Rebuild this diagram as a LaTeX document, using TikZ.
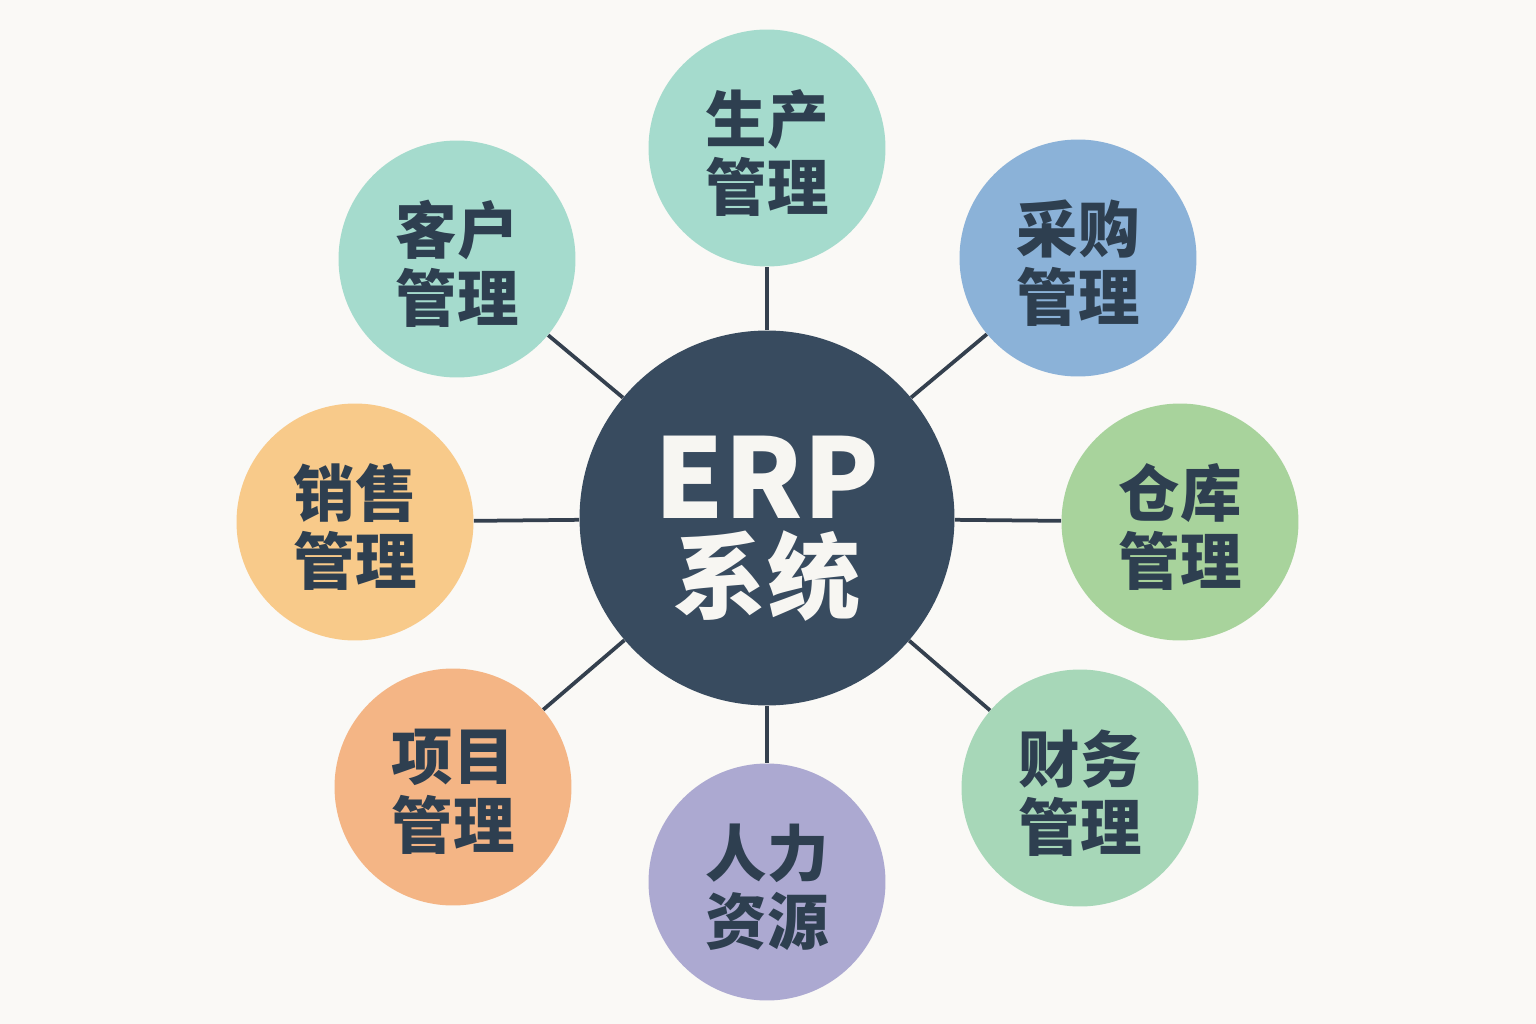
\documentclass[tikz,border=0pt]{standalone}
\usepackage{fontspec}
\setmainfont{Noto Sans CJK SC}
\usepackage{xcolor}
\usepackage{tikz}
\usetikzlibrary{positioning}

\definecolor{pageBg}{HTML}{FAF9F6}
\definecolor{hubFill}{HTML}{384B5F}
\definecolor{linkColor}{HTML}{34404E}
\definecolor{labelDark}{HTML}{2E3F50}
\definecolor{hubTextColor}{HTML}{F7F6F2}
\definecolor{mintFill}{HTML}{A5DBCD}
\definecolor{blueFill}{HTML}{8BB2D8}
\definecolor{greenFill}{HTML}{A8D39C}
\definecolor{sageFill}{HTML}{A7D7B8}
\definecolor{lavenderFill}{HTML}{ACA9D1}
\definecolor{peachFill}{HTML}{F4B585}
\definecolor{sandFill}{HTML}{F8CA8A}

\begin{document}
\begin{tikzpicture}[
  x=0.02cm, y=-0.02cm,
  hubNode/.style={circle, fill=hubFill, inner sep=0pt, minimum size=7.5cm},
  hubText/.style={text=hubTextColor, align=center, yshift=-0.22cm, font=\bfseries\fontsize{53}{53}\selectfont},
  moduleNode/.style={circle, inner sep=0pt, minimum size=4.74cm},
  moduleText/.style={text=labelDark, align=center, yshift=-0.1cm, font=\bfseries\fontsize{35}{39}\selectfont},
  linkLine/.style={draw=linkColor, line width=0.075cm}
]
\fill[pageBg] (0,0) rectangle (1536,1024);
\useasboundingbox (0,0) rectangle (1536,1024);

\node[hubNode, label={[hubText]center:{\fontsize{63}{53}\selectfont ERP}\\系统}] (erp) at (767,518) {};

\node[moduleNode, fill=mintFill, label={[moduleText]center:生产\\管理}] (prod) at (767,148) {};
\node[moduleNode, fill=blueFill, label={[moduleText]center:采购\\管理}] (purch) at (1078,258) {};
\node[moduleNode, fill=greenFill, label={[moduleText]center:仓库\\管理}] (store) at (1180,522) {};
\node[moduleNode, fill=sageFill, label={[moduleText]center:财务\\管理}] (fin) at (1080,788) {};
\node[moduleNode, fill=lavenderFill, label={[moduleText]center:人力\\资源}] (hr) at (767,882) {};
\node[moduleNode, fill=peachFill, label={[moduleText]center:项目\\管理}] (proj) at (453,787) {};
\node[moduleNode, fill=sandFill, label={[moduleText]center:销售\\管理}] (sales) at (355,522) {};
\node[moduleNode, fill=mintFill, label={[moduleText]center:客户\\管理}] (cust) at (457,259) {};

\foreach \m in {prod, purch, store, fin, hr, proj, sales, cust}
  \draw[linkLine] (erp) -- (\m);
\end{tikzpicture}
\end{document}
